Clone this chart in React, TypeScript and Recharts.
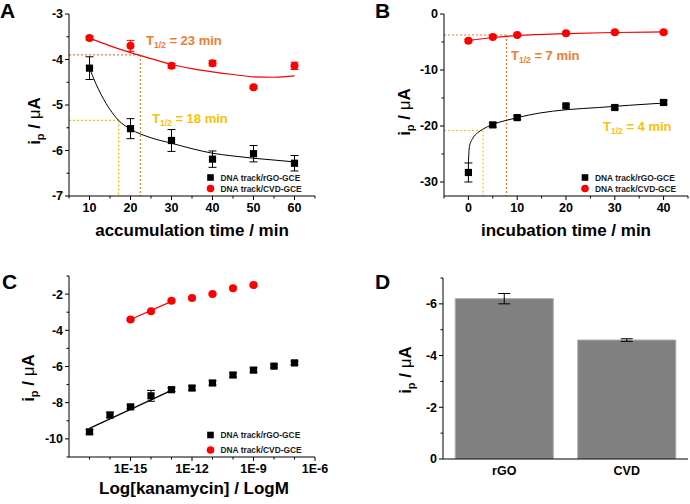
import React from "react";
import {
  ComposedChart,
  BarChart,
  Bar,
  Line,
  Scatter,
  XAxis,
  YAxis,
  ErrorBar,
  ReferenceLine,
} from "recharts";

const FONT = "'Liberation Sans', Arial, sans-serif";
const ORANGE = "#ED7D31";
const GOLD = "#FFC000";
const RED = "#FF0000";
const TICK_FS = 12.5;

// A - accumulation time
const accTime = [10, 20, 30, 40, 50, 60];
const accRgo = [-4.19, -5.52, -5.78, -6.19, -6.07, -6.28];
const accRgoErr = [0.25, 0.22, 0.24, 0.18, 0.18, 0.17];
const accCvd = [-3.53, -3.7, -4.14, -4.08, -4.61, -4.14];
const accCvdErr = [0.04, 0.12, 0.05, 0.06, 0.03, 0.08];
const accRgoFitX = [10, 11.5, 13, 15, 17, 20, 25, 30, 35, 40, 45, 50, 55, 60];
const accRgoFit = [-4.19, -4.52, -4.8, -5.1, -5.33, -5.53, -5.72, -5.84, -5.96, -6.06, -6.12, -6.17, -6.21, -6.25];
const accCvdFitX = [10, 15, 20, 25, 30, 35, 40, 45, 50, 55, 60];
const accCvdFit = [-3.53, -3.7, -3.85, -3.98, -4.11, -4.2, -4.27, -4.33, -4.38, -4.39, -4.36];
const accXTicks = [5, 10, 15, 20, 25, 30, 35, 40, 45, 50, 55, 60, 65];
const accYTicks = [-7, -6.5, -6, -5.5, -5, -4.5, -4, -3.5, -3];

// B - incubation time
const incTime = [0, 5, 10, 20, 30, 40];
const incRgo = [-28.3, -19.8, -18.5, -16.4, -16.7, -15.8];
const incRgoErr = [1.7, 0.4, 0.3, 0.3, 0.3, 0.3];
const incCvd = [-4.76, -4.1, -3.75, -3.45, -3.27, -3.27];
const incCvdErr = [0.2, 0.2, 0.2, 0.2, 0.2, 0.2];
const incRgoFitX = [0, 0.2, 0.9, 1.9, 2.9, 5, 7.5, 10, 14.5, 20, 26.7, 33, 40];
const incRgoFit = [-26.7, -23.7, -22.2, -21.2, -20.6, -19.7, -19.05, -18.5, -17.7, -17.1, -16.7, -16.3, -15.9];
const incCvdFitX = [0, 5, 10, 20, 30, 40];
const incCvdFit = [-4.75, -4.2, -3.85, -3.5, -3.3, -3.2];
const incXTicks = [-5, 0, 5, 10, 15, 20, 25, 30, 35, 40, 45];
const incYTicks = [-30, -25, -20, -15, -10, -5, 0];

// C - kanamycin concentration (log10 M)
const kanaRgoLog = [-17, -16, -15, -14, -13, -12, -11, -10, -9, -8, -7];
const kanaRgo = [-9.61, -8.68, -8.23, -7.62, -7.28, -7.19, -6.91, -6.47, -6.2, -5.98, -5.8];
const kanaRgoErr = [0.12, 0.15, 0.1, 0.3, 0.1, 0.12, 0.12, 0.12, 0.12, 0.1, 0.1];
const kanaCvdLog = [-15, -14, -13, -12, -11, -10, -9];
const kanaCvd = [-3.4, -2.95, -2.37, -2.22, -2.0, -1.67, -1.5];
const kanaCvdErr = [0.05, 0.05, 0.05, 0.05, 0.05, 0.05, 0.05];
const kanaRgoFitX = [-17, -13];
const kanaRgoFit = [-9.42, -7.32];
const kanaCvdFitX = [-15, -13];
const kanaCvdFit = [-3.4, -2.4];
const kanaXTicks = [-17, -16, -15, -14, -13, -12, -11, -10, -9, -8, -7, -6];
const kanaYTicks = [-11, -10, -9, -8, -7, -6, -5, -4, -3, -2, -1];

// D - electrode comparison
const electrodes = ["rGO", "CVD"];
const electrodeCurrent = [-6.2, -4.6];
const electrodeErr = [0.2, 0.05];
const barYTicks = [0, -1, -2, -3, -4, -5, -6, -7];

const pts = (xs: number[], ys: number[], errs?: number[]) =>
  xs.map((x, i) => ({ x, y: ys[i], err: errs ? errs[i] : 0 }));

const barRows = electrodes.map((name, i) => ({ name, value: electrodeCurrent[i], err: electrodeErr[i] }));

const isMultiple = (v: number, step: number) => Math.abs(v / step - Math.round(v / step)) < 1e-6;

const yTick = (isMajor: (v: number) => boolean, fmt: (v: number) => string = String) => (props: any) => {
  const { x, y, payload } = props;
  const v = Number(payload.value);
  const major = isMajor(v);
  return (
    <g>
      <line x1={x} x2={x - (major ? 4 : 2.5)} y1={y} y2={y} stroke="#000" />
      {major && (
        <text x={x - 6} y={y + 4.4} textAnchor="end" fontSize={TICK_FS} fontWeight={700} fontFamily={FONT} fill="#000">
          {fmt(v)}
        </text>
      )}
    </g>
  );
};

const xTick = (isMajor: (v: number) => boolean, fmt: (v: number) => string = String) => (props: any) => {
  const { x, y, payload } = props;
  const v = Number(payload.value);
  const major = isMajor(v);
  return (
    <g>
      <line x1={x} x2={x} y1={y} y2={y + (major ? 4 : 2.5)} stroke="#000" />
      {major && (
        <text x={x} y={y + 16} textAnchor="middle" fontSize={TICK_FS} fontWeight={700} fontFamily={FONT} fill="#000">
          {fmt(v)}
        </text>
      )}
    </g>
  );
};

const catTick = (props: any) => {
  const { x, y, payload } = props;
  return (
    <text x={x} y={y + 16} textAnchor="middle" fontSize={TICK_FS} fontWeight={700} fontFamily={FONT} fill="#000">
      {payload.value}
    </text>
  );
};

const squareShape = (p: any) => <rect x={p.cx - 3.6} y={p.cy - 3.6} width={7.2} height={7.2} fill="#000" />;
const circleShape = (p: any) => <circle cx={p.cx} cy={p.cy} r={4} fill={RED} />;

const dotted = { strokeDasharray: "2 2", strokeWidth: 1.2 };

// top and right border of the plot box
const frameAxes = (xd: [number, number], yd: [number, number]) => [
  <XAxis key="ft" xAxisId="top" orientation="top" type="number" domain={xd} height={0} tick={false} tickLine={false} axisLine={{ stroke: "#000" }} />,
  <YAxis key="fr" yAxisId="right" orientation="right" type="number" domain={yd} width={0} tick={false} tickLine={false} axisLine={{ stroke: "#000" }} />,
];

const axisProps = {
  type: "number" as const,
  interval: 0 as const,
  tickSize: 0,
  tickMargin: 0,
  tickLine: false,
  axisLine: { stroke: "#000" },
  allowDataOverflow: true,
};

const PanelA = () => (
  <ComposedChart width={345} height={252} margin={{ top: 14, right: 30, bottom: 26, left: 29 }}>
    <XAxis {...axisProps} dataKey="x" domain={[5, 65]} ticks={accXTicks} height={30} tick={xTick((v) => isMultiple(v, 10))} />
    <YAxis {...axisProps} dataKey="y" domain={[-7, -3]} ticks={accYTicks} width={40} tick={yTick((v) => isMultiple(v, 1))} />
    {frameAxes([5, 65], [-7, -3])}
    <ReferenceLine segment={[{ x: 5, y: -3.9 }, { x: 22.4, y: -3.9 }]} stroke={ORANGE} {...dotted} ifOverflow="visible" />
    <ReferenceLine segment={[{ x: 22.4, y: -3.9 }, { x: 22.4, y: -7 }]} stroke={ORANGE} {...dotted} ifOverflow="visible" />
    <ReferenceLine segment={[{ x: 5, y: -5.34 }, { x: 17.1, y: -5.34 }]} stroke={GOLD} {...dotted} ifOverflow="visible" />
    <ReferenceLine segment={[{ x: 17.1, y: -5.34 }, { x: 17.1, y: -7 }]} stroke={GOLD} {...dotted} ifOverflow="visible" />
    <Line data={pts(accRgoFitX, accRgoFit)} dataKey="y" type="monotone" dot={false} stroke="#000" strokeWidth={1} isAnimationActive={false} />
    <Line data={pts(accCvdFitX, accCvdFit)} dataKey="y" type="monotone" dot={false} stroke={RED} strokeWidth={1.2} isAnimationActive={false} />
    <Scatter data={pts(accTime, accRgo, accRgoErr)} dataKey="y" shape={squareShape} isAnimationActive={false}>
      <ErrorBar dataKey="err" direction="y" width={4} stroke="#000" strokeWidth={1} />
    </Scatter>
    <Scatter data={pts(accTime, accCvd, accCvdErr)} dataKey="y" shape={circleShape} isAnimationActive={false}>
      <ErrorBar dataKey="err" direction="y" width={4} stroke={RED} strokeWidth={1} />
    </Scatter>
  </ComposedChart>
);

const PanelB = () => (
  <ComposedChart width={345} height={252} margin={{ top: 14, right: 2, bottom: 26, left: 59 }}>
    <XAxis {...axisProps} dataKey="x" domain={[-5, 45]} ticks={incXTicks} height={30} tick={xTick((v) => isMultiple(v, 10))} />
    <YAxis {...axisProps} dataKey="y" domain={[-32.5, 0]} ticks={incYTicks} width={40} tick={yTick((v) => isMultiple(v, 10))} />
    {frameAxes([-5, 45], [-32.5, 0])}
    <ReferenceLine segment={[{ x: -5, y: -3.75 }, { x: 7.8, y: -3.75 }]} stroke={ORANGE} {...dotted} ifOverflow="visible" />
    <ReferenceLine segment={[{ x: 7.8, y: -3.75 }, { x: 7.8, y: -32.5 }]} stroke={ORANGE} {...dotted} ifOverflow="visible" />
    <ReferenceLine segment={[{ x: -5, y: -20.8 }, { x: 3.0, y: -20.8 }]} stroke={GOLD} {...dotted} ifOverflow="visible" />
    <ReferenceLine segment={[{ x: 3.0, y: -20.8 }, { x: 3.0, y: -32.5 }]} stroke={GOLD} {...dotted} ifOverflow="visible" />
    <Line data={pts(incRgoFitX, incRgoFit)} dataKey="y" type="monotone" dot={false} stroke="#000" strokeWidth={1} isAnimationActive={false} />
    <Line data={pts(incCvdFitX, incCvdFit)} dataKey="y" type="monotone" dot={false} stroke={RED} strokeWidth={1.2} isAnimationActive={false} />
    <Scatter data={pts(incTime, incRgo, incRgoErr)} dataKey="y" shape={squareShape} isAnimationActive={false}>
      <ErrorBar dataKey="err" direction="y" width={4} stroke="#000" strokeWidth={1} />
    </Scatter>
    <Scatter data={pts(incTime, incCvd, incCvdErr)} dataKey="y" shape={circleShape} isAnimationActive={false}>
      <ErrorBar dataKey="err" direction="y" width={4} stroke={RED} strokeWidth={1} />
    </Scatter>
  </ComposedChart>
);

const PanelC = () => (
  <ComposedChart width={345} height={252} margin={{ top: 24, right: 30, bottom: 17, left: 29 }}>
    <XAxis
      {...axisProps}
      dataKey="x"
      domain={[-18, -6]}
      ticks={kanaXTicks}
      height={30}
      tick={xTick((v) => isMultiple(v, 3), (v) => `1E${v}`)}
    />
    <YAxis {...axisProps} dataKey="y" domain={[-11, -1]} ticks={kanaYTicks} width={40} tick={yTick((v) => isMultiple(v, 2))} />
    {frameAxes([-18, -6], [-11, -1])}
    <Line data={pts(kanaRgoFitX, kanaRgoFit)} dataKey="y" type="linear" dot={false} stroke="#000" strokeWidth={1.2} isAnimationActive={false} />
    <Line data={pts(kanaCvdFitX, kanaCvdFit)} dataKey="y" type="linear" dot={false} stroke={RED} strokeWidth={1.2} isAnimationActive={false} />
    <Scatter data={pts(kanaRgoLog, kanaRgo, kanaRgoErr)} dataKey="y" shape={squareShape} isAnimationActive={false}>
      <ErrorBar dataKey="err" direction="y" width={4} stroke="#000" strokeWidth={1} />
    </Scatter>
    <Scatter data={pts(kanaCvdLog, kanaCvd, kanaCvdErr)} dataKey="y" shape={circleShape} isAnimationActive={false}>
      <ErrorBar dataKey="err" direction="y" width={4} stroke={RED} strokeWidth={1} />
    </Scatter>
  </ComposedChart>
);

const PanelD = () => (
  <BarChart width={345} height={252} data={barRows} margin={{ top: 26, right: 2, bottom: 15, left: 58 }} barCategoryGap="10%">
    <XAxis
      xAxisId="edges"
      type="number"
      domain={[0, 2]}
      ticks={[0, 1, 2]}
      height={0}
      tick={false}
      tickSize={4}
      tickLine={{ stroke: "#000" }}
      axisLine={false}
    />
    <XAxis dataKey="name" height={30} interval={0} tickSize={0} tickMargin={0} tickLine={false} axisLine={{ stroke: "#000" }} tick={catTick} />
    <YAxis
      {...axisProps}
      domain={[-7, 0]}
      reversed
      ticks={barYTicks}
      width={40}
      tick={yTick((v) => isMultiple(v, 2))}
    />
    <XAxis xAxisId="top" orientation="top" height={0} tick={false} tickLine={false} axisLine={{ stroke: "#000" }} />
    <YAxis yAxisId="right" orientation="right" type="number" domain={[0, 1]} width={0} tick={false} tickLine={false} axisLine={{ stroke: "#000" }} />
    <Bar dataKey="value" fill="#808080" stroke="#a8a8a8" strokeWidth={1} isAnimationActive={false}>
      <ErrorBar dataKey="err" direction="y" width={6} stroke="#000" strokeWidth={1} />
    </Bar>
  </BarChart>
);

const txt = { fontFamily: FONT, fontWeight: 700, fill: "#000" };

const Thalf = ({ x, y, color, value }: { x: number; y: number; color: string; value: string }) => (
  <text x={x} y={y} fontSize={13} {...txt} fill={color}>
    T
    <tspan fontSize={8.5} dy={3}>
      1/2
    </tspan>
    <tspan dy={-3}>{` = ${value} min`}</tspan>
  </text>
);

const YTitle = ({ x, y }: { x: number; y: number }) => (
  <text transform={`translate(${x},${y}) rotate(-90)`} textAnchor="middle" fontSize={17} {...txt}>
    i
    <tspan fontSize={11} dy={4}>
      p
    </tspan>
    <tspan dy={-4}>{" / "}</tspan>
    <tspan fontWeight={400}>μ</tspan>
    <tspan>A</tspan>
  </text>
);

const LegendBox = ({ x, y, gap }: { x: number; y: number; gap: number }) => (
  <g>
    <rect x={x - 3.3} y={y - 3.3} width={6.6} height={6.6} fill="#000" />
    <text x={x + 10} y={y + 3} fontSize={8.4} fontWeight={700} fontFamily={FONT} fill="#1a1a1a">
      DNA track/rGO-GCE
    </text>
    <circle cx={x} cy={y + gap} r={3.8} fill={RED} />
    <text x={x + 10} y={y + gap + 3} fontSize={8.4} fontWeight={700} fontFamily={FONT} fill="#1a1a1a">
      DNA track/CVD-GCE
    </text>
  </g>
);

const Overlay = () => (
  <svg width={690} height={504} style={{ position: "absolute", left: 0, top: 0, pointerEvents: "none" }}>
    <text x={0} y={18} fontSize={21} {...txt}>A</text>
    <text x={375} y={18} fontSize={21} {...txt}>B</text>
    <text x={2} y={289} fontSize={21} {...txt}>C</text>
    <text x={375} y={289} fontSize={21} {...txt}>D</text>

    <Thalf x={146} y={45} color={ORANGE} value="23" />
    <Thalf x={152} y={123} color={GOLD} value="18" />
    <Thalf x={511} y={60} color={ORANGE} value="7" />
    <Thalf x={603} y={131} color={GOLD} value="4" />

    <YTitle x={40} y={121} />
    <YTitle x={410} y={112} />
    <YTitle x={34} y={378} />
    <YTitle x={411} y={370} />

    <text x={192} y={236} textAnchor="middle" fontSize={17} {...txt}>accumulation time / min</text>
    <text x={566} y={236} textAnchor="middle" fontSize={17} {...txt}>incubation time / min</text>
    <text x={194} y={494} textAnchor="middle" fontSize={17} {...txt}>Log[kanamycin] / LogM</text>

    <LegendBox x={210.5} y={177.5} gap={11} />
    <LegendBox x={585} y={177.5} gap={11} />
    <LegendBox x={210.5} y={435} gap={15} />
  </svg>
);

export default function App() {
  return (
    <div style={{ position: "absolute", left: 0, top: 0, width: 690, height: 504, background: "#fff", fontFamily: FONT }}>
      <div style={{ position: "absolute", left: 0, top: 0 }}>
        <PanelA />
      </div>
      <div style={{ position: "absolute", left: 345, top: 0 }}>
        <PanelB />
      </div>
      <div style={{ position: "absolute", left: 0, top: 252 }}>
        <PanelC />
      </div>
      <div style={{ position: "absolute", left: 345, top: 252 }}>
        <PanelD />
      </div>
      <Overlay />
    </div>
  );
}
